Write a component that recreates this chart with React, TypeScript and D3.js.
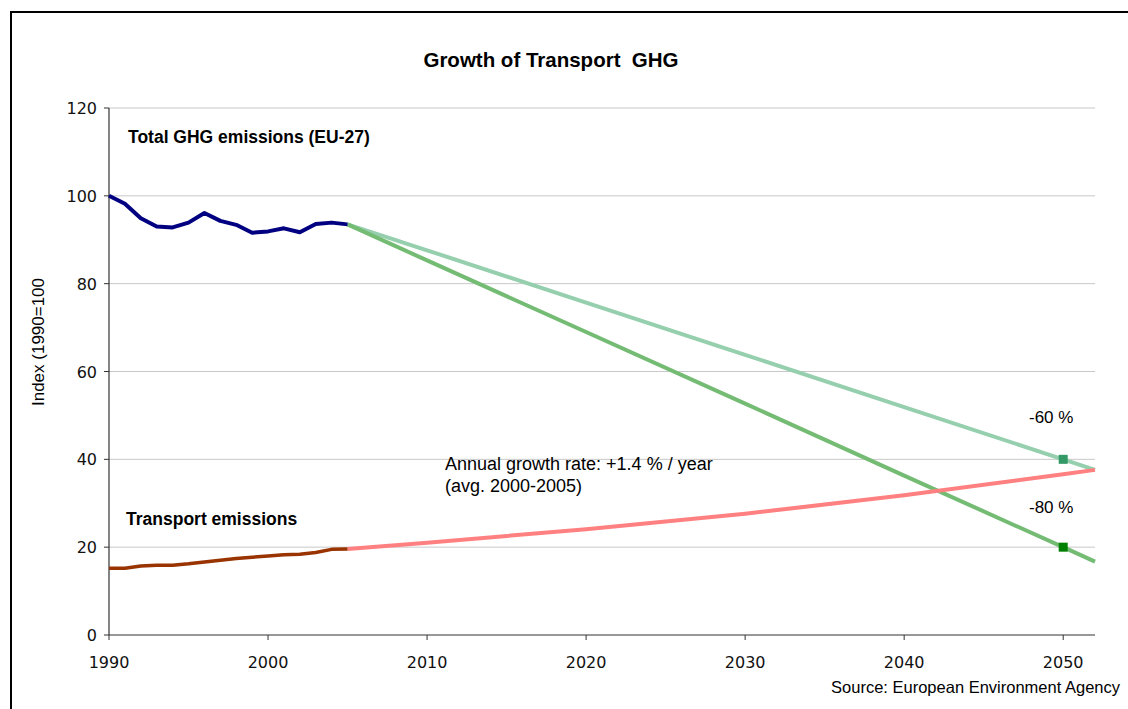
import * as d3 from "d3";

const histYears = [1990, 1991, 1992, 1993, 1994, 1995, 1996, 1997, 1998, 1999, 2000, 2001, 2002, 2003, 2004, 2005];
const totalGhg = [100, 98.2, 94.9, 93.0, 92.8, 93.9, 96.1, 94.3, 93.4, 91.6, 91.9, 92.6, 91.7, 93.6, 93.9, 93.5];
const transportGhg = [15.2, 15.2, 15.7, 15.9, 15.9, 16.2, 16.6, 17.0, 17.4, 17.7, 18.0, 18.3, 18.4, 18.8, 19.5, 19.6];

const projYears = [2005, 2010, 2020, 2030, 2040, 2050, 2052];
const cut60 = [93.5, 87.6, 75.7, 63.8, 51.9, 40, 37.6];
const cut80 = [93.5, 85.3, 69.0, 52.7, 36.3, 20, 16.7];
const transportTrend = [19.6, 21.0, 24.1, 27.6, 31.8, 36.6, 37.6];

const targets = [
  { year: 2050, value: 40, color: "#339966" },
  { year: 2050, value: 20, color: "#008000" },
];

const yTicks = [0, 20, 40, 60, 80, 100, 120];
const xTicks = [1990, 2000, 2010, 2020, 2030, 2040, 2050];

export default function App() {
  const left = 109;
  const right = 1095;
  const top = 108;
  const bottom = 635;

  const x = d3.scaleLinear().domain([1990, 2052]).range([left, right]);
  const y = d3.scaleLinear().domain([0, 120]).range([bottom, top]);

  const line = d3
    .line<[number, number]>()
    .x((d) => x(d[0]))
    .y((d) => y(d[1]));

  const zip = (xs: number[], ys: number[]) => xs.map((v, i) => [v, ys[i]] as [number, number]);

  const ff = "'Liberation Sans', Arial, sans-serif";
  const tickFont = "'DejaVu Sans', Verdana, sans-serif";

  return (
    <svg
      width={1128}
      height={709}
      style={{ position: "absolute", left: 0, top: 0, background: "#fff" }}
    >
      <rect x={11} y={12} width={1130} height={710} fill="#fff" stroke="#000" strokeWidth={2} />

      <text
        x={551}
        y={67}
        textAnchor="middle"
        fontFamily={ff}
        fontWeight="bold"
        fontSize={20.5}
        style={{ whiteSpace: "pre" }}
      >
        {"Growth of Transport  GHG"}
      </text>

      {/* gridlines */}
      {yTicks.filter((t) => t > 0).map((t) => (
        <line key={t} x1={left} x2={right} y1={y(t)} y2={y(t)} stroke="#c8c8c8" strokeWidth={1} />
      ))}

      {/* axes */}
      <line x1={left} x2={left} y1={top} y2={bottom} stroke="#333" strokeWidth={1.2} />
      <line x1={left} x2={right} y1={bottom} y2={bottom} stroke="#333" strokeWidth={1.2} />
      {yTicks.map((t) => (
        <g key={t}>
          <line x1={left - 5} x2={left} y1={y(t)} y2={y(t)} stroke="#333" />
          <text x={97} y={y(t) + 6} textAnchor="end" fontFamily={tickFont} fontSize={16} fill="#111">
            {t}
          </text>
        </g>
      ))}
      {xTicks.map((t) => (
        <g key={t}>
          <line x1={x(t)} x2={x(t)} y1={bottom} y2={bottom + 5} stroke="#333" />
          <text x={x(t)} y={668} textAnchor="middle" fontFamily={tickFont} fontSize={16} fill="#111">
            {t}
          </text>
        </g>
      ))}

      <text
        transform="translate(44,342) rotate(-90)"
        textAnchor="middle"
        fontFamily={ff}
        fontSize={17}
      >
        Index (1990=100
      </text>

      {/* projections */}
      <path d={line(zip(projYears, cut60)) ?? ""} fill="none" stroke="#95cfad" strokeWidth={4} strokeLinejoin="round" />
      <path d={line(zip(projYears, cut80)) ?? ""} fill="none" stroke="#74bb74" strokeWidth={4} strokeLinejoin="round" />
      <path d={line(zip(projYears, transportTrend)) ?? ""} fill="none" stroke="#ff8080" strokeWidth={4} strokeLinejoin="round" />

      {/* historical */}
      <path d={line(zip(histYears, totalGhg)) ?? ""} fill="none" stroke="#000080" strokeWidth={4} strokeLinejoin="round" />
      <path d={line(zip(histYears, transportGhg)) ?? ""} fill="none" stroke="#993300" strokeWidth={3.5} strokeLinejoin="round" />

      {targets.map((t, i) => (
        <rect key={i} x={x(t.year) - 4.5} y={y(t.value) - 4.5} width={9} height={9} fill={t.color} />
      ))}

      <text x={128} y={143} fontFamily={ff} fontWeight="bold" fontSize={17.5}>
        Total GHG emissions (EU-27)
      </text>
      <text x={126} y={525} fontFamily={ff} fontWeight="bold" fontSize={17.5}>
        Transport emissions
      </text>
      <text x={445} y={470} fontFamily={ff} fontSize={18}>
        Annual growth rate: +1.4 % / year
      </text>
      <text x={445} y={492} fontFamily={ff} fontSize={18}>
        (avg. 2000-2005)
      </text>
      <text x={1029} y={423} fontFamily={ff} fontSize={17}>
        -60 %
      </text>
      <text x={1029} y={513} fontFamily={ff} fontSize={17}>
        -80 %
      </text>
      <text x={1120} y={693} textAnchor="end" fontFamily={ff} fontSize={16.5}>
        Source: European Environment Agency
      </text>
    </svg>
  );
}
